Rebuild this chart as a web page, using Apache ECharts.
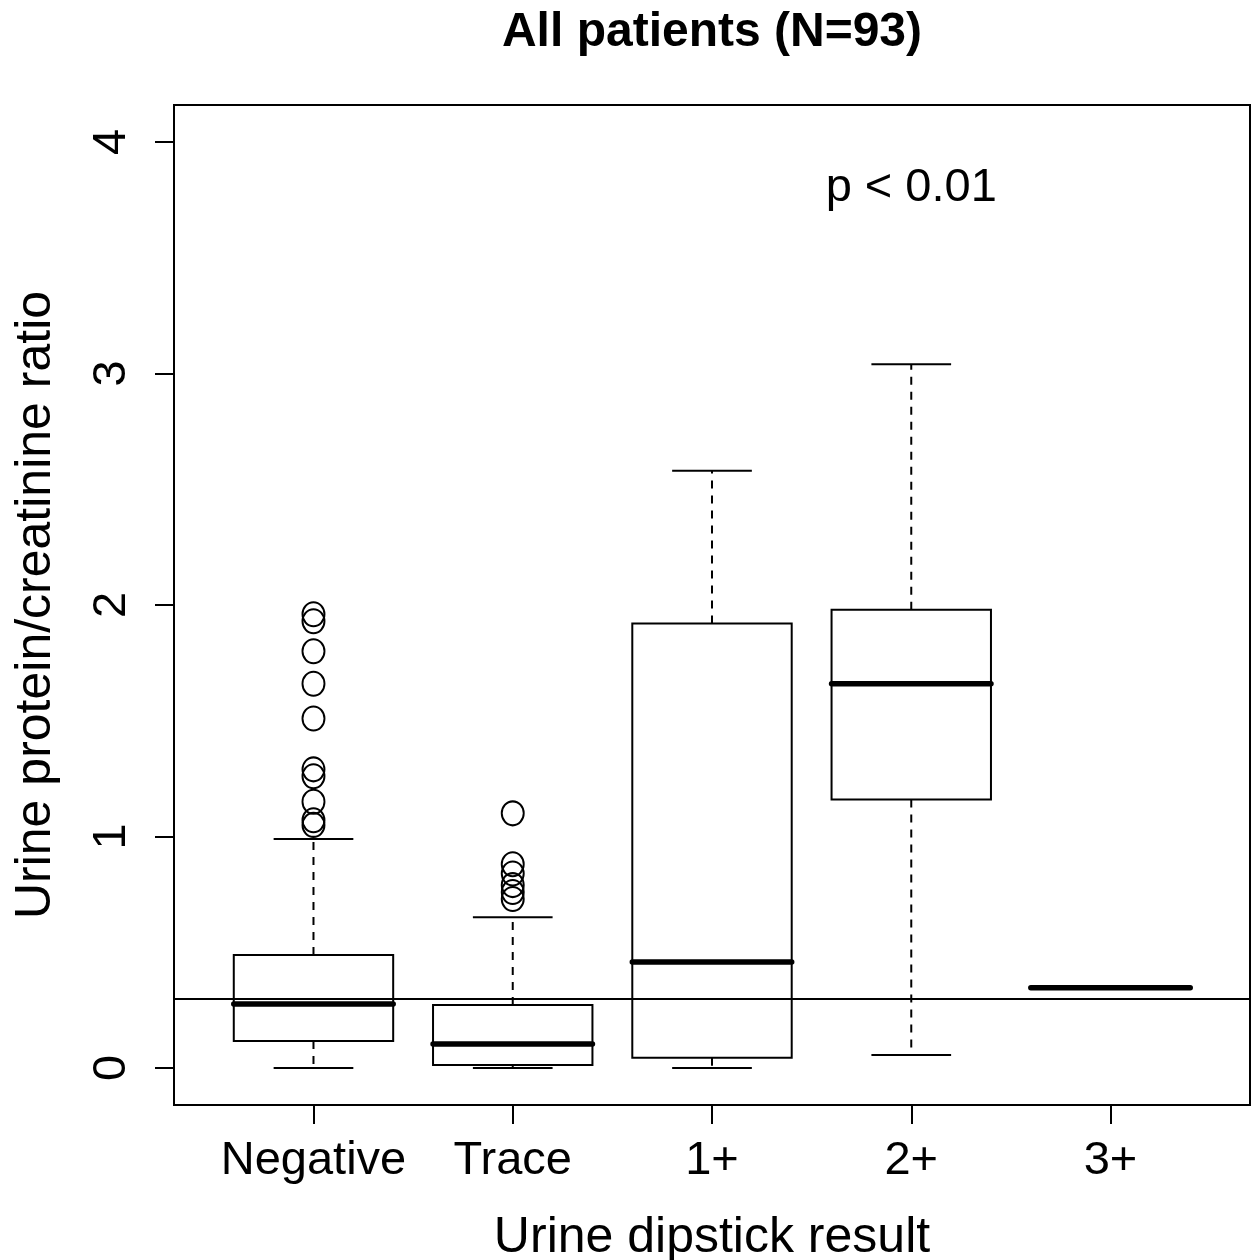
<!DOCTYPE html>
<html>
<head>
<meta charset="utf-8">
<script src="https://cdn.jsdelivr.net/npm/echarts@6/dist/echarts.min.js"></script>
<style>
html,body{margin:0;padding:0;background:#fff;}
#chart{width:1256px;height:1260px;}
</style>
</head>
<body>
<div id="chart"></div>
<script>
// ---- data ----
const categories = ['Negative', 'Trace', '1+', '2+', '3+'];
const whiskerLow  = [0.000, 0.000, 0.000, 0.056, 0.346];
const q1          = [0.117, 0.013, 0.044, 1.160, 0.346];
const median      = [0.276, 0.104, 0.458, 1.660, 0.346];
const q3          = [0.488, 0.272, 1.920, 1.980, 0.346];
const whiskerHigh = [0.989, 0.651, 2.580, 3.040, 0.346];
const outliersNegative = [1.96, 1.93, 1.80, 1.66, 1.51, 1.29, 1.26, 1.15, 1.07, 1.05];
const outliersTrace = [1.10, 0.88, 0.84, 0.79, 0.76, 0.73];
const yTicks = [0, 1, 2, 3, 4];
const referenceLine = 0.3;
const titleText = 'All patients (N=93)';
const pText = 'p < 0.01';
const pPos = [4, 3.8];
const xTitle = 'Urine dipstick result';
const yTitle = 'Urine protein/creatinine ratio';

const FONT = '"Liberation Sans", Arial, Helvetica, sans-serif';

const boxData = categories.map((c, i) => [i + 1, whiskerLow[i], q1[i], median[i], q3[i], whiskerHigh[i]]);
const outlierData = []
  .concat(outliersNegative.map(v => [1, v]))
  .concat(outliersTrace.map(v => [2, v]));

function renderBox(params, api) {
  const x = api.value(0);
  const wl = api.value(1), b1 = api.value(2), md = api.value(3), b3 = api.value(4), wh = api.value(5);
  const halfBox = api.size([0.4, 0])[0];
  const halfCap = api.size([0.2, 0])[0];
  const c = (v) => api.coord([x, v]);
  const pL = c(wl), p1 = c(b1), pm = c(md), p3 = c(b3), pH = c(wh);
  const cx = pm[0];
  const children = [];
  const solid = {stroke: '#000', lineWidth: 2, fill: null};
  const dashed = {stroke: '#000', lineWidth: 2, lineDash: [8, 7], fill: null};
  if (wh > b3) {
    children.push({type: 'line', shape: {x1: cx, y1: p3[1], x2: cx, y2: pH[1]}, style: dashed});
  }
  if (b1 > wl) {
    children.push({type: 'line', shape: {x1: cx, y1: p1[1], x2: cx, y2: pL[1]}, style: dashed});
  }
  if (wh !== md) {
    children.push({type: 'line', shape: {x1: cx - halfCap, y1: pH[1], x2: cx + halfCap, y2: pH[1]}, style: solid});
    children.push({type: 'line', shape: {x1: cx - halfCap, y1: pL[1], x2: cx + halfCap, y2: pL[1]}, style: solid});
    children.push({type: 'rect', shape: {x: cx - halfBox, y: p3[1], width: 2 * halfBox, height: p1[1] - p3[1]}, style: solid});
  }
  children.push({type: 'line', shape: {x1: cx - halfBox, y1: pm[1], x2: cx + halfBox, y2: pm[1]}, style: {stroke: '#000', lineWidth: 5.5, lineCap: 'round'}});
  return {type: 'group', children: children};
}

const chart = echarts.init(document.getElementById('chart'), null, {renderer: 'canvas'});
chart.setOption({
  backgroundColor: '#fff',
  animation: false,
  graphic: [{
    type: 'text', x: 712, y: 33,
    style: {text: titleText, font: 'bold 48px ' + FONT, fill: '#000', align: 'center', verticalAlign: 'middle'}
  }],
  grid: {
    left: 174, top: 105, right: 6, bottom: 155,
    containLabel: false, outerBoundsMode: 'none',
    show: true, borderColor: '#000', borderWidth: 2, backgroundColor: 'transparent'
  },
  xAxis: {
    type: 'value', min: 0.3, max: 5.7,
    name: xTitle, nameLocation: 'middle', nameGap: 108,
    nameTextStyle: {fontFamily: FONT, fontSize: 50, color: '#000'},
    axisLine: {show: false, onZero: false},
    splitLine: {show: false},
    axisTick: {show: true, inside: false, length: 19, customValues: [1, 2, 3, 4, 5], lineStyle: {color: '#000', width: 2}},
    axisLabel: {
      show: true, customValues: [1, 2, 3, 4, 5], margin: 33,
      fontFamily: FONT, fontSize: 47, color: '#000',
      formatter: (v) => categories[Math.round(v) - 1] || ''
    }
  },
  yAxis: {
    type: 'value', min: -0.16, max: 4.16,
    name: yTitle, nameLocation: 'middle', nameGap: 113, nameRotate: 90,
    nameTextStyle: {fontFamily: FONT, fontSize: 50, color: '#000'},
    axisLine: {show: false, onZero: false},
    splitLine: {show: false},
    axisTick: {show: true, inside: false, length: 19, customValues: yTicks, lineStyle: {color: '#000', width: 2}},
    axisLabel: {
      show: true, customValues: yTicks, rotate: 90, margin: 38,
      fontFamily: FONT, fontSize: 47, color: '#000',
      formatter: (v) => String(Math.round(v))
    }
  },
  series: [
    {
      type: 'custom', name: 'box', renderItem: renderBox,
      encode: {x: 0, y: [1, 2, 3, 4, 5]},
      data: boxData, clip: false,
      markLine: {
        silent: true, symbol: ['none', 'none'],
        label: {show: false},
        lineStyle: {color: '#000', width: 2, type: 'solid', opacity: 1},
        data: [{yAxis: referenceLine}]
      }
    },
    {
      type: 'scatter', name: 'outliers', data: outlierData,
      symbol: 'circle', symbolSize: [22, 24],
      itemStyle: {color: 'rgba(0,0,0,0)', borderColor: '#000', borderWidth: 2, opacity: 1}
    },
    {
      type: 'scatter', name: 'p', data: [pPos], symbolSize: 0,
      itemStyle: {opacity: 1},
      label: {show: true, position: 'inside', formatter: pText, fontFamily: FONT, fontSize: 47, color: '#000', opacity: 1}
    }
  ]
});
</script>
</body>
</html>
